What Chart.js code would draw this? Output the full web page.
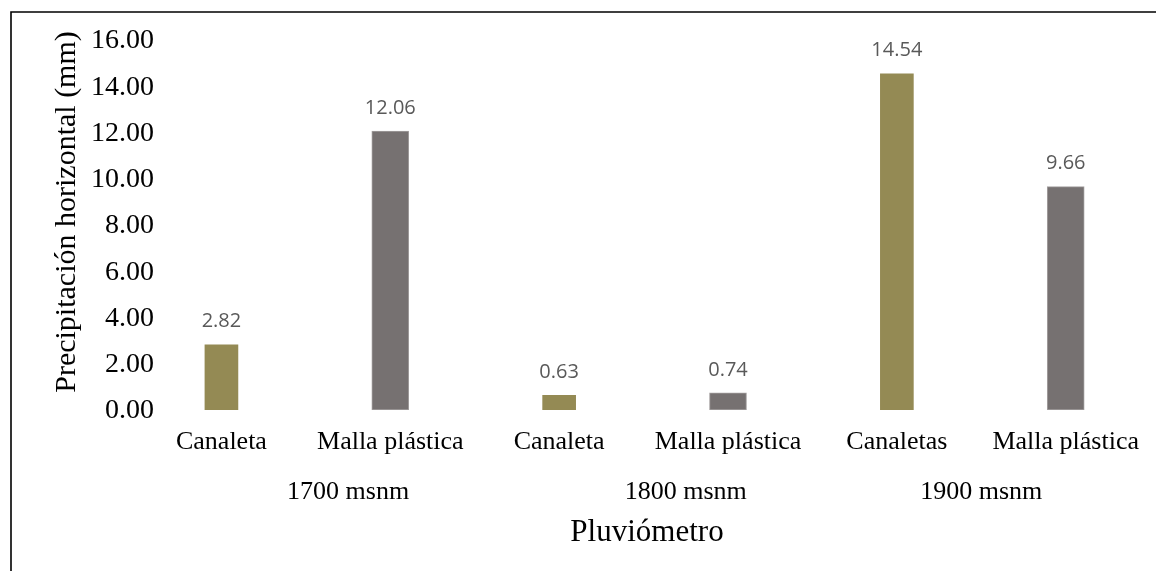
<!DOCTYPE html>
<html>
<head>
<meta charset="utf-8">
<script src="https://cdn.jsdelivr.net/npm/chart.js@4.4.1/dist/chart.umd.min.js"></script>
<style>
  html, body { margin: 0; padding: 0; background: #ffffff; }
  #wrap { width: 1156px; height: 571px; position: relative; }
</style>
</head>
<body>
<div id="wrap"><canvas id="c" width="1156" height="571"></canvas></div>
<script>
// Collector types, one bar each
const categories = ['Canaleta', 'Malla plástica', 'Canaleta', 'Malla plástica', 'Canaletas', 'Malla plástica'];
// Horizontal precipitation (mm) collected by the gutter collectors
const canaletaValues = [2.82, null, 0.63, null, 14.54, null];
// Horizontal precipitation (mm) collected by the plastic mesh collectors
const mallaValues = [null, 12.06, null, 0.74, null, 9.66];
// Altitude groups and the category position each label is centred on
const altitudeLabels = ['1700 msnm', '1800 msnm', '1900 msnm'];
const altitudePositions = [0.75, 2.75, 4.5];
const yTicks = [0, 2, 4, 6, 8, 10, 12, 14, 16];

const SERIF = '"Liberation Serif", "Times New Roman", serif';

const framePlugin = {
  id: 'frame',
  beforeDraw(chart) {
    const ctx = chart.ctx;
    ctx.save();
    ctx.fillStyle = '#ffffff';
    ctx.fillRect(0, 0, chart.width, chart.height);
    ctx.strokeStyle = '#000000';
    ctx.lineWidth = 1.6;
    ctx.beginPath();
    ctx.moveTo(11, chart.height + 2);
    ctx.lineTo(11, 12);
    ctx.lineTo(chart.width + 2, 12);
    ctx.stroke();
    ctx.restore();
  }
};

const labelsPlugin = {
  id: 'valueLabels',
  afterDatasetsDraw(chart) {
    const ctx = chart.ctx;
    ctx.save();
    ctx.font = '20px "Open Sans", "Noto Sans", sans-serif';
    ctx.fillStyle = '#595959';
    ctx.textAlign = 'center';
    ctx.textBaseline = 'middle';
    chart.data.datasets.forEach((ds, di) => {
      const meta = chart.getDatasetMeta(di);
      meta.data.forEach((el, i) => {
        const v = ds.data[i];
        if (v === null || v === undefined) return;
        const top = chart.scales.y.getPixelForValue(v);
        ctx.fillText(v.toFixed(2), el.x, top - 23);
      });
    });
    ctx.restore();
  }
};

const axisTextPlugin = {
  id: 'axisText',
  afterDraw(chart) {
    const ctx = chart.ctx;
    const x = chart.scales.x;
    const y = chart.scales.y;
    ctx.save();
    ctx.fillStyle = '#000000';
    ctx.textBaseline = 'middle';
    // y tick labels, right-aligned just past the plot's left edge
    ctx.textAlign = 'right';
    ctx.font = '28px ' + SERIF;
    yTicks.forEach(v => {
      ctx.fillText(v.toFixed(2), 154, y.getPixelForValue(v) + 1);
    });
    ctx.textAlign = 'center';
    // altitude group labels
    ctx.font = '26px ' + SERIF;
    altitudeLabels.forEach((t, i) => {
      ctx.fillText(t, x.getPixelForValue(altitudePositions[i]), 492);
    });
    // x-axis title
    ctx.font = '31px ' + SERIF;
    ctx.fillText('Pluviómetro', 647, 533);
    // y-axis title
    ctx.translate(67, 212);
    ctx.rotate(-Math.PI / 2);
    ctx.font = '30px ' + SERIF;
    ctx.fillText('Precipitación horizontal (mm)', 0, 0);
    ctx.restore();
  }
};

new Chart(document.getElementById('c'), {
  type: 'bar',
  data: {
    labels: categories,
    datasets: [
      {
        label: 'Canaleta',
        data: canaletaValues,
        backgroundColor: '#948A54',
        borderWidth: 0,
        barThickness: 33,
        grouped: false
      },
      {
        label: 'Malla plástica',
        data: mallaValues,
        backgroundColor: '#767171',
        borderColor: '#A39F9F',
        borderWidth: 1,
        borderSkipped: false,
        barThickness: 37,
        grouped: false
      }
    ]
  },
  options: {
    responsive: false,
    animation: false,
    devicePixelRatio: 1,
    layout: { padding: { top: 40, left: 0, right: 0, bottom: 0 } },
    plugins: {
      legend: { display: false },
      tooltip: { enabled: false }
    },
    scales: {
      x: {
        grid: { display: false, drawTicks: false },
        border: { display: false },
        ticks: {
          font: { family: SERIF, size: 26 },
          color: '#000000',
          padding: 17,
          autoSkip: false,
          maxRotation: 0,
          minRotation: 0
        },
        afterFit(scale) { scale.height = 161; }
      },
      y: {
        min: 0,
        max: 16,
        afterBuildTicks(scale) { scale.ticks = yTicks.map(v => ({ value: v })); },
        grid: { display: false, drawTicks: false },
        border: { display: false },
        ticks: { display: false },
        afterFit(scale) { scale.width = 137; }
      }
    }
  },
  plugins: [framePlugin, labelsPlugin, axisTextPlugin]
});
</script>
</body>
</html>
